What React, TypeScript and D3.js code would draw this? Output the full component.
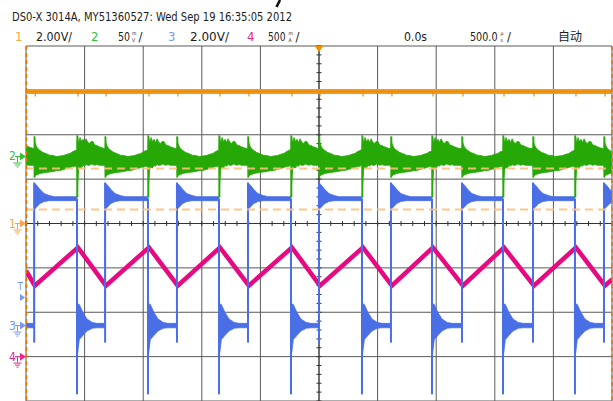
import React from "react";
import * as d3 from "d3";

const W = 613;
const H = 401;
const PLOT = { left: 26, right: 612, top: 46, bottom: 401 };

// Horizontal settings (µs)
const timeDomain = [-2500, 2500];
const timePerDiv = 500;
const vDivs = 8;

// Header
const headerTitle = "DS0-X 3014A, MY51360527: Wed Sep 19 16:35:05 2012";
const channelNames = ["1", "2", "3", "4"];
const channelColors = ["#f39a1e", "#26a806", "#4a6ee6", "#e6097f"];
const labelColors = ["#f5a54a", "#33c233", "#7a96f0", "#e8278c"];
const channelScales = [2, 50, 2, 0.5]; // V/div, mV/div, V/div, A/div
const channelOffsets = [0, 1.51, -2.3, -3.0]; // ground position, divisions from centre
const scaleMain = ["2.00V/", "50", "2.00V/", "500"];
const scaleStackTop = ["", "m", "", "m"];
const scaleStackBottom = ["", "V", "", "A"];
const timeDelayLabel = "0.0s";
const timebaseMain = "500.0";
const timebaseStack = ["µ", "s"];
const modeLabel = "自动";

// Trigger
const triggerLevelCh3 = 1.27; // V
const triggerTime = 0;

// Cursors (ch1 volts) and X cursors (µs)
const cursorLevels = [2.48, 0.63];
const cursorTimes = [-2500, 2495];

// Ch1: flat DC level
const ch1Times = [-2500, 2500];
const ch1Values = [5.95, 5.95];

// Ch3 switching edges (µs)
const riseEdges = [-2430, -1825, -1212, -606, 0, 614, 1220, 1826, 2432];
const fallEdges = [-2669, -2065, -1459, -853, -239, 367, 964, 1570, 2184];

// Ch3 ringing envelopes (V) after edges
const blueRiseDt = [0, 25, 50, 85, 130, 170];
const blueRiseHi = [6.44, 6.3, 6.13, 5.95, 5.86, 5.81];
const blueRiseLo = [5.23, 5.37, 5.5, 5.59, 5.63, 5.63];
const blueFallDt = [0, 20, 50, 85, 130, 170];
const blueFallHi = [1.0, 0.95, 0.6, 0.3, 0.14, 0.1];
const blueFallLo = [-1.5, -0.63, -0.45, -0.25, -0.12, -0.1];
const blueRiseEdgeSpan = [-0.77, 6.44];
const blueFallEdgeSpan = [5.72, -3.1];

// Ch2 envelopes (mV) after edges
const greenFallDt = [0, 6, 14, 26, 38, 52, 64, 78, 92, 106, 120, 136, 152, 170, 190, 210, 230];
const greenFallHi = [23.6, 22, 15, 21.4, 17, 19.5, 15.8, 20, 16, 14.6, 17, 16.9, 13, 12.4, 11, 10.1, 9];
const greenFallLo = [-46, -30, -14.6, -12.4, -13, -10, -11, -9, -10, -10, -8.5, -9, -10, -9, -10, -10, -10];
const greenRiseDt = [0, 6, 16, 30, 50, 75, 100, 130, 160, 190, 220, 250, 280, 305, 330, 350, 362];
const greenRiseHi = [22.5, 16, 12, 9, 6.8, 4.5, 3.4, 1.5, 1.1, 0, 0.5, 1.1, 2.5, 3.4, 5.6, 6.8, 7.9];
const greenRiseLo = [-23.6, -22, -21, -20.3, -19.1, -18.5, -18, -17.5, -16.9, -16, -15.8, -14.6, -13.5, -12.4, -11.3, -11, -10];
const greenFallSpike = [23.6, -46];
const greenRiseSpike = [22.5, -23.6];

// Ch4 triangle current (A)
const pinkTimes = [-2500, -2425, -2057, -1818, -1451, -1205, -845, -598, -231, 8, 375, 622, 972, 1228, 1578, 1834, 2192, 2440, 2500];
const pinkValues = [0.97, 0.8, 1.23, 0.8, 1.23, 0.8, 1.23, 0.8, 1.23, 0.8, 1.23, 0.8, 1.23, 0.8, 1.23, 0.8, 1.23, 0.8, 0.87];

type Env = { t: number; hi: number; lo: number };
type Tmpl = { dt: number[]; hi: number[]; lo: number[] };

function buildEnvelope(rises: number[], falls: number[], tR: Tmpl, tF: Tmpl, tEnd: number): Env[] {
  const events = [
    ...rises.map((t) => ({ t, type: "R" })),
    ...falls.map((t) => ({ t, type: "F" })),
  ].sort((a, b) => a.t - b.t);
  const pts: Env[] = [];
  events.forEach((e, i) => {
    const next = i + 1 < events.length ? events[i + 1].t : tEnd;
    const tm = e.type === "R" ? tR : tF;
    const span = next - e.t;
    let lastHi = tm.hi[0];
    let lastLo = tm.lo[0];
    for (let k = 0; k < tm.dt.length; k++) {
      if (tm.dt[k] < span - 4) {
        pts.push({ t: e.t + tm.dt[k], hi: tm.hi[k], lo: tm.lo[k] });
        lastHi = tm.hi[k];
        lastLo = tm.lo[k];
      }
    }
    pts.push({ t: next - 2, hi: lastHi, lo: lastLo });
  });
  return pts;
}

const FONT = "'Liberation Sans Narrow', 'DejaVu Sans Condensed', 'Liberation Sans', sans-serif";

function Stack({ x, top, bottom }: { x: number; top: string; bottom: string }) {
  return (
    <g>
      <text x={x} y={34.6} fontFamily={FONT} fontSize={5} fill="#1c1c1c">{top}</text>
      <text x={x} y={41.8} fontFamily={FONT} fontSize={5} fill="#1c1c1c">{bottom}</text>
    </g>
  );
}

export default function App() {
  const x = d3.scaleLinear().domain(timeDomain).range([PLOT.left, PLOT.right]);
  const yDiv = d3.scaleLinear().domain([-vDivs / 2, vDivs / 2]).range([PLOT.bottom, PLOT.top]);
  const chY = (ch: number, v: number) => yDiv(channelOffsets[ch] + v / channelScales[ch]);

  const vLines = d3.range(timeDomain[0], timeDomain[1] + 1, timePerDiv).map((t) => x(t));
  const hLines = d3.range(-vDivs / 2, vDivs / 2 + 1).map((d) => yDiv(d));
  const xMinor = d3.range(timeDomain[0], timeDomain[1] + 1, timePerDiv / 5);
  const yMinor = d3.range(-vDivs / 2, vDivs / 2 + 0.01, 0.2);
  const cx = x(0);
  const cy = yDiv(0);

  const blueEnv = buildEnvelope(
    riseEdges, fallEdges,
    { dt: blueRiseDt, hi: blueRiseHi, lo: blueRiseLo },
    { dt: blueFallDt, hi: blueFallHi, lo: blueFallLo },
    2600
  );
  const greenEnv = buildEnvelope(
    riseEdges, fallEdges,
    { dt: greenRiseDt, hi: greenRiseHi, lo: greenRiseLo },
    { dt: greenFallDt, hi: greenFallHi, lo: greenFallLo },
    2600
  );

  const blueArea = d3.area<Env>().x((d) => x(d.t)).y0((d) => chY(2, d.lo)).y1((d) => chY(2, d.hi))(blueEnv) || "";
  const greenArea = d3.area<Env>().x((d) => x(d.t)).y0((d) => chY(1, d.lo)).y1((d) => chY(1, d.hi))(greenEnv) || "";
  const pinkPath = d3.line<number>().x((_, i) => x(pinkTimes[i])).y((v) => chY(3, v))(pinkValues) || "";
  const orangePath = d3.line<number>().x((_, i) => x(ch1Times[i])).y((v) => chY(0, v))(ch1Values) || "";

  const markers = [0, 1, 2, 3].map((ch) => ({ ch, y: chY(ch, 0) }));
  const trigY = chY(2, triggerLevelCh3);

  const textCommon = { fontFamily: FONT, fontSize: 13, fill: "#1c1c1c" } as const;

  return (
    <div style={{ position: "absolute", left: 0, top: 0, width: W, height: H, background: "#fff" }}>
      <svg width={W} height={H} style={{ display: "block" }}>
        <defs>
          <clipPath id="plotClip">
            <rect x={PLOT.left} y={PLOT.top} width={PLOT.right - PLOT.left} height={PLOT.bottom - PLOT.top} />
          </clipPath>
        </defs>
        <rect x={0} y={0} width={W} height={H} fill="#fff" />

        {/* Header */}
        <text x={12} y={21} {...textCommon} textLength={280} lengthAdjust="spacingAndGlyphs">{headerTitle}</text>
        <path d="M280 0 L276.5 7" stroke="#111" strokeWidth={2.6} />
        <g>
          <text x={15} y={41} {...textCommon} fill={labelColors[0]}>{channelNames[0]}</text>
          <text x={36} y={41} {...textCommon} textLength={36} lengthAdjust="spacingAndGlyphs">{scaleMain[0]}</text>
          <text x={91} y={41} {...textCommon} fill={labelColors[1]}>{channelNames[1]}</text>
          <text x={118} y={41} {...textCommon} textLength={12} lengthAdjust="spacingAndGlyphs">{scaleMain[1]}</text>
          <Stack x={132} top={scaleStackTop[1]} bottom={scaleStackBottom[1]} />
          <text x={138.5} y={41} {...textCommon}>/</text>
          <text x={168} y={41} {...textCommon} fill={labelColors[2]}>{channelNames[2]}</text>
          <text x={190} y={41} {...textCommon} textLength={39} lengthAdjust="spacingAndGlyphs">{scaleMain[2]}</text>
          <text x={247} y={41} {...textCommon} fill={labelColors[3]}>{channelNames[3]}</text>
          <text x={268} y={41} {...textCommon} textLength={17.5} lengthAdjust="spacingAndGlyphs">{scaleMain[3]}</text>
          <Stack x={288.5} top={scaleStackTop[3]} bottom={scaleStackBottom[3]} />
          <text x={295.5} y={41} {...textCommon}>/</text>
          <text x={404} y={41} {...textCommon} textLength={23} lengthAdjust="spacingAndGlyphs">{timeDelayLabel}</text>
          <text x={470} y={41} {...textCommon} textLength={27.5} lengthAdjust="spacingAndGlyphs">{timebaseMain}</text>
          <Stack x={500.5} top={timebaseStack[0]} bottom={timebaseStack[1]} />
          <text x={507} y={41} {...textCommon}>/</text>
          <text x={558} y={41} fontFamily="'Noto Sans CJK SC', sans-serif" fontSize={12} fill="#1c1c1c" textLength={24} lengthAdjust="spacingAndGlyphs">{modeLabel}</text>
        </g>

        {/* Grid */}
        <g stroke="#5a5a5a" strokeWidth={1}>
          {vLines.map((vx, i) => (
            <line key={"v" + i} x1={vx} x2={vx} y1={PLOT.top} y2={PLOT.bottom} />
          ))}
          {hLines.map((hy, i) => (
            <line key={"h" + i} x1={PLOT.left} x2={PLOT.right} y1={hy} y2={hy} />
          ))}
        </g>
        <g stroke="#333" strokeWidth={1}>
          <line x1={PLOT.left} x2={PLOT.right} y1={cy} y2={cy} />
          <line x1={cx} x2={cx} y1={PLOT.top} y2={PLOT.bottom} />
          {xMinor.map((t, i) => (
            <line key={"xm" + i} x1={x(t)} x2={x(t)} y1={cy - 2.5} y2={cy + 2.5} />
          ))}
          {yMinor.map((d, i) => (
            <line key={"ym" + i} x1={cx - 2.5} x2={cx + 2.5} y1={yDiv(d)} y2={yDiv(d)} />
          ))}
        </g>

        {/* Traces */}
        <g clipPath="url(#plotClip)">
          {/* Ch1 */}
          <path d={orangePath} stroke={channelColors[0]} strokeWidth={5} fill="none" />
          <path d={orangePath} stroke="#ef8a00" strokeWidth={1.5} fill="none" />
          {[...riseEdges, ...fallEdges].map((t, i) => (
            <line key={"g1" + i} x1={x(t) + 1} x2={x(t) + 1} y1={chY(0, ch1Values[0])} y2={chY(0, ch1Values[0]) + 5} stroke="#ef8a00" strokeWidth={1.2} />
          ))}

          {/* Ch4 */}
          <path d={pinkPath} stroke={channelColors[3]} strokeWidth={4.5} fill="none" strokeLinejoin="miter" />

          {/* Ch3 */}
          <path d={blueArea} fill={channelColors[2]} stroke={channelColors[2]} strokeWidth={0.8} />
          {riseEdges.map((t, i) => (
            <line key={"br" + i} x1={x(t)} x2={x(t)} y1={chY(2, blueRiseEdgeSpan[0])} y2={chY(2, blueRiseEdgeSpan[1])} stroke={channelColors[2]} strokeWidth={2} />
          ))}
          {fallEdges.map((t, i) => (
            <line key={"bf" + i} x1={x(t)} x2={x(t)} y1={chY(2, blueFallEdgeSpan[0])} y2={chY(2, blueFallEdgeSpan[1])} stroke={channelColors[2]} strokeWidth={2} />
          ))}

          {/* Ch2 */}
          <path d={greenArea} fill={channelColors[1]} stroke={channelColors[1]} strokeWidth={0.8} />
          {riseEdges.map((t, i) => (
            <line key={"gr" + i} x1={x(t) + 0.5} x2={x(t) + 0.5} y1={chY(1, greenRiseSpike[0])} y2={chY(1, greenRiseSpike[1])} stroke={channelColors[1]} strokeWidth={1.6} />
          ))}
          {fallEdges.map((t, i) => (
            <line key={"gf" + i} x1={x(t) + 0.5} x2={x(t) + 0.5} y1={chY(1, greenFallSpike[0])} y2={chY(1, greenFallSpike[1])} stroke={channelColors[1]} strokeWidth={1.6} />
          ))}

          {/* Cursors */}
          {cursorLevels.map((v, i) => (
            <line key={"cl" + i} x1={PLOT.left} x2={PLOT.right} y1={chY(0, v)} y2={chY(0, v)} stroke="#ffc07e" strokeWidth={2} strokeDasharray="8,5" opacity={0.9} />
          ))}
        </g>
        {cursorTimes.map((t, i) => (
          <line key={"ct" + i} x1={x(t) + 0.5} x2={x(t) + 0.5} y1={PLOT.top} y2={PLOT.bottom} stroke="#e07800" strokeWidth={1.5} strokeDasharray="4,3" />
        ))}

        {/* Trigger position marker */}
        <path d={`M${x(triggerTime) - 4.5},${PLOT.top} L${x(triggerTime) + 4.5},${PLOT.top} L${x(triggerTime)},${PLOT.top + 6} Z`} fill="#f39200" />

        {/* Channel ground markers */}
        {markers.map(({ ch, y }) => (
          <g key={"m" + ch} fill={labelColors[ch]} stroke={labelColors[ch]}>
            <text x={9} y={y + 4} fontFamily={FONT} fontSize={12} stroke="none">{channelNames[ch]}</text>
            <line x1={15} x2={21} y1={y} y2={y} strokeWidth={1} />
            <line x1={17.5} x2={17.5} y1={y} y2={y + 6} strokeWidth={1} />
            <line x1={13.5} x2={21.5} y1={y + 6.5} y2={y + 6.5} strokeWidth={1} />
            <line x1={15} x2={20} y1={y + 8.5} y2={y + 8.5} strokeWidth={1} />
            <line x1={16.5} x2={18.5} y1={y + 10.5} y2={y + 10.5} strokeWidth={1} />
            <path d={`M20,${y - 4} L26,${y} L20,${y + 4} Z`} stroke="none" />
          </g>
        ))}
        <g fill={labelColors[2]}>
          <text x={17.5} y={trigY - 7} fontFamily={FONT} fontSize={10}>T</text>
          <path d={`M20,${trigY - 3.5} L25,${trigY} L20,${trigY + 3.5} Z`} />
        </g>
      </svg>
    </div>
  );
}
